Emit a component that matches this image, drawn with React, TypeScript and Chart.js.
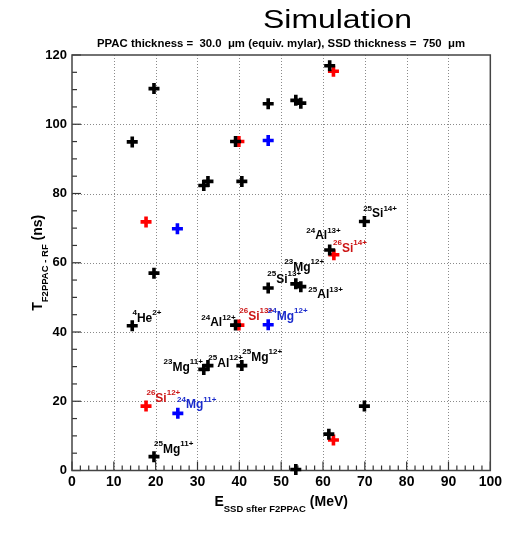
import React, { useEffect, useRef } from "react";
import { Chart, registerables } from "chart.js";

Chart.register(...registerables);

const FONT = "'Liberation Sans', Arial, Helvetica, sans-serif";

// Data: E (MeV) and T (ns)
const blackE = [19.6, 14.4, 39.1, 46.9, 31.5, 32.5, 40.6, 61.6, 53.5, 54.7, 69.9, 19.6, 14.4, 39.1, 46.9, 61.6, 53.5, 54.7, 31.5, 32.5, 40.6, 19.6, 69.9, 61.4, 53.5];
const blackT = [110.3, 94.9, 95.0, 105.9, 82.3, 83.5, 83.5, 116.9, 106.9, 106.1, 71.9, 57.0, 41.8, 42.0, 52.7, 63.7, 53.9, 53.1, 29.2, 30.3, 30.3, 4.0, 18.6, 10.5, 0.3];
const redE = [39.9, 17.7, 62.5, 39.9, 62.6, 17.7, 62.5];
const redT = [95.0, 71.8, 115.3, 42.0, 62.3, 18.6, 8.8];
const blueE = [46.9, 25.2, 46.9, 25.3];
const blueT = [95.3, 69.8, 42.1, 16.5];

// Axis ranges / ticks
const X_MIN = 0, X_MAX = 100, X_STEP = 10, X_MINOR = 2;
const Y_MIN = 0, Y_MAX = 120, Y_STEP = 20, Y_MINOR = 5;

// Isotope labels
const labelMass = ["4", "24", "26", "24", "25", "23", "25", "24", "26", "25", "23", "25", "25", "26", "24", "25"];
const labelElem = ["He", "Al", "Si", "Mg", "Si", "Mg", "Al", "Al", "Si", "Si", "Mg", "Al", "Mg", "Si", "Mg", "Mg"];
const labelCharge = ["2+", "12+", "13+", "12+", "13+", "12+", "13+", "13+", "14+", "14+", "11+", "12+", "12+", "12+", "11+", "11+"];
const labelE = [14.46, 30.9, 40.0, 46.8, 46.7, 50.75, 56.5, 56.0, 62.4, 69.6, 21.9, 32.6, 40.7, 17.8, 25.1, 19.6];
const labelT = [43.0, 41.7, 43.6, 43.6, 54.2, 57.7, 49.7, 66.8, 63.2, 73.1, 28.8, 30.0, 31.7, 19.9, 18.0, 5.1];
const labelGroup = ["k", "k", "r", "b", "k", "k", "k", "k", "r", "k", "k", "k", "k", "r", "b", "k"];

const TITLE = "Simulation";
const SUBTITLE = "PPAC thickness =  30.0  \u03bcm (equiv. mylar), SSD thickness =  750  \u03bcm";

const markerColor: Record<string, string> = { k: "#000000", r: "#ff0000", b: "#0000ff" };
const textColor: Record<string, string> = { k: "#000000", r: "#cc1515", b: "#1a2bcc" };

type Part = { text: string; size: number; dy: number; bold: boolean; color: string };

function richWidth(ctx: CanvasRenderingContext2D, parts: Part[]) {
  let w = 0;
  for (const p of parts) {
    ctx.font = `${p.bold ? "bold " : ""}${p.size}px ${FONT}`;
    w += ctx.measureText(p.text).width;
  }
  return w;
}

function drawRich(ctx: CanvasRenderingContext2D, parts: Part[], x: number, y: number) {
  let cx = x;
  ctx.textAlign = "left";
  ctx.textBaseline = "alphabetic";
  for (const p of parts) {
    ctx.font = `${p.bold ? "bold " : ""}${p.size}px ${FONT}`;
    ctx.fillStyle = p.color;
    ctx.fillText(p.text, cx, y + p.dy);
    cx += ctx.measureText(p.text).width;
  }
}

function drawFitted(ctx: CanvasRenderingContext2D, text: string, font: string, left: number, width: number, baseline: number) {
  ctx.save();
  ctx.font = font;
  ctx.fillStyle = "#000";
  ctx.textAlign = "left";
  ctx.textBaseline = "alphabetic";
  const w = ctx.measureText(text).width;
  ctx.translate(left, baseline);
  ctx.scale(width / w, 1);
  ctx.fillText(text, 0, 0);
  ctx.restore();
}

const framePlugin = {
  id: "rootFrame",
  beforeDatasetsDraw(chart: any) {
    const { ctx, chartArea: a, scales } = chart;
    const xs = scales.x, ys = scales.y;
    ctx.save();
    // dotted grid
    ctx.strokeStyle = "#8a8a8a";
    ctx.lineWidth = 1;
    ctx.setLineDash([1, 2]);
    for (let v = X_MIN + X_STEP; v < X_MAX; v += X_STEP) {
      const px = Math.round(xs.getPixelForValue(v)) + 0.5;
      ctx.beginPath(); ctx.moveTo(px, a.top); ctx.lineTo(px, a.bottom); ctx.stroke();
    }
    for (let v = Y_MIN + Y_STEP; v < Y_MAX; v += Y_STEP) {
      const py = Math.round(ys.getPixelForValue(v)) + 0.5;
      ctx.beginPath(); ctx.moveTo(a.left, py); ctx.lineTo(a.right, py); ctx.stroke();
    }
    ctx.setLineDash([]);
    // ticks (inside)
    ctx.strokeStyle = "#333";
    ctx.lineWidth = 1.2;
    for (let v = X_MIN; v <= X_MAX + 1e-9; v += X_MINOR) {
      const major = Math.abs(v / X_STEP - Math.round(v / X_STEP)) < 1e-6;
      const px = xs.getPixelForValue(v);
      ctx.beginPath(); ctx.moveTo(px, a.bottom); ctx.lineTo(px, a.bottom - (major ? 9 : 5)); ctx.stroke();
    }
    for (let v = Y_MIN; v <= Y_MAX + 1e-9; v += Y_MINOR) {
      const major = Math.abs(v / Y_STEP - Math.round(v / Y_STEP)) < 1e-6;
      const py = ys.getPixelForValue(v);
      ctx.beginPath(); ctx.moveTo(a.left, py); ctx.lineTo(a.left + (major ? 9 : 5), py); ctx.stroke();
    }
    // frame
    ctx.strokeStyle = "#444";
    ctx.lineWidth = 1.5;
    ctx.strokeRect(a.left, a.top, a.right - a.left, a.bottom - a.top);
    // labels
    for (let i = 0; i < labelElem.length; i++) {
      const c = textColor[labelGroup[i]];
      const x = xs.getPixelForValue(labelE[i]);
      const y = ys.getPixelForValue(labelT[i]);
      drawRich(ctx, [
        { text: labelMass[i], size: 8, dy: -6.5, bold: true, color: c },
        { text: labelElem[i], size: 12, dy: 0, bold: true, color: c },
        { text: labelCharge[i], size: 8, dy: -6.5, bold: true, color: c },
      ], x, y);
    }
    ctx.restore();
  },
  afterDraw(chart: any) {
    const { ctx, chartArea: a } = chart;
    ctx.save();
    // main title & subtitle
    drawFitted(ctx, TITLE, `26px ${FONT}`, 255, 149, 20);
    drawFitted(ctx, SUBTITLE, `bold 10px ${FONT}`, 89, 368, 38.7);
    // x-axis title
    const xParts: Part[] = [
      { text: "E", size: 14, dy: 0, bold: true, color: "#000" },
      { text: "SSD sfter F2PPAC", size: 9.5, dy: 5.5, bold: true, color: "#000" },
      { text: " (MeV)", size: 14, dy: 0, bold: true, color: "#000" },
    ];
    const cx = (a.left + a.right) / 2;
    const xw = richWidth(ctx, xParts);
    drawRich(ctx, xParts, cx - xw / 2, a.bottom + 35.5);
    // y-axis title
    const yParts: Part[] = [
      { text: "T", size: 14, dy: 0, bold: true, color: "#000" },
      { text: "F2PPAC - RF", size: 9.5, dy: 5.5, bold: true, color: "#000" },
      { text: " (ns)", size: 14, dy: 0, bold: true, color: "#000" },
    ];
    const cy = (a.top + a.bottom) / 2;
    const yw = richWidth(ctx, yParts);
    ctx.translate(a.left - 30, cy);
    ctx.rotate(-Math.PI / 2);
    drawRich(ctx, yParts, -yw / 2, 0);
    ctx.restore();
  },
};

function makeSet(xs: number[], ys: number[], color: string) {
  return {
    data: xs.map((x, i) => ({ x, y: ys[i] })),
    pointStyle: "cross" as const,
    pointRadius: 5.5,
    pointHoverRadius: 5.5,
    borderColor: color,
    backgroundColor: color,
    pointBorderWidth: 3.6,
    borderWidth: 3.6,
    clip: false as any,
  };
}

export default function App() {
  const ref = useRef<HTMLCanvasElement>(null);
  useEffect(() => {
    if (!ref.current) return;
    const chart = new Chart(ref.current, {
      type: "scatter",
      data: {
        datasets: [
          makeSet(blackE, blackT, markerColor.k),
          makeSet(redE, redT, markerColor.r),
          makeSet(blueE, blueT, markerColor.b),
        ],
      },
      options: {
        animation: false,
        responsive: false,
        events: [],
        layout: { padding: { top: 47, right: 13.5, left: 0, bottom: 0 } },
        plugins: { legend: { display: false }, tooltip: { enabled: false }, title: { display: false } },
        scales: {
          x: {
            type: "linear",
            min: X_MIN,
            max: X_MAX,
            ticks: { stepSize: X_STEP, autoSkip: false, maxRotation: 0, padding: 3, color: "#000", font: { family: FONT, size: 14, weight: "bold" } },
            grid: { display: false, drawTicks: false, tickLength: 0 },
            border: { display: false },
            afterFit: (s: any) => { s.height = 54.5; },
          },
          y: {
            type: "linear",
            min: Y_MIN,
            max: Y_MAX,
            ticks: { stepSize: Y_STEP, autoSkip: false, padding: 5, color: "#000", font: { family: FONT, size: 13, weight: "bold" } },
            grid: { display: false, drawTicks: false, tickLength: 0 },
            border: { display: false },
            afterFit: (s: any) => { s.width = 64; },
          },
        },
      } as any,
      plugins: [framePlugin],
    });
    return () => chart.destroy();
  }, []);
  return (
    <div style={{ width: 497, height: 517 }}>
      <canvas ref={ref} width={497} height={517} style={{ display: "block" }} />
    </div>
  );
}
